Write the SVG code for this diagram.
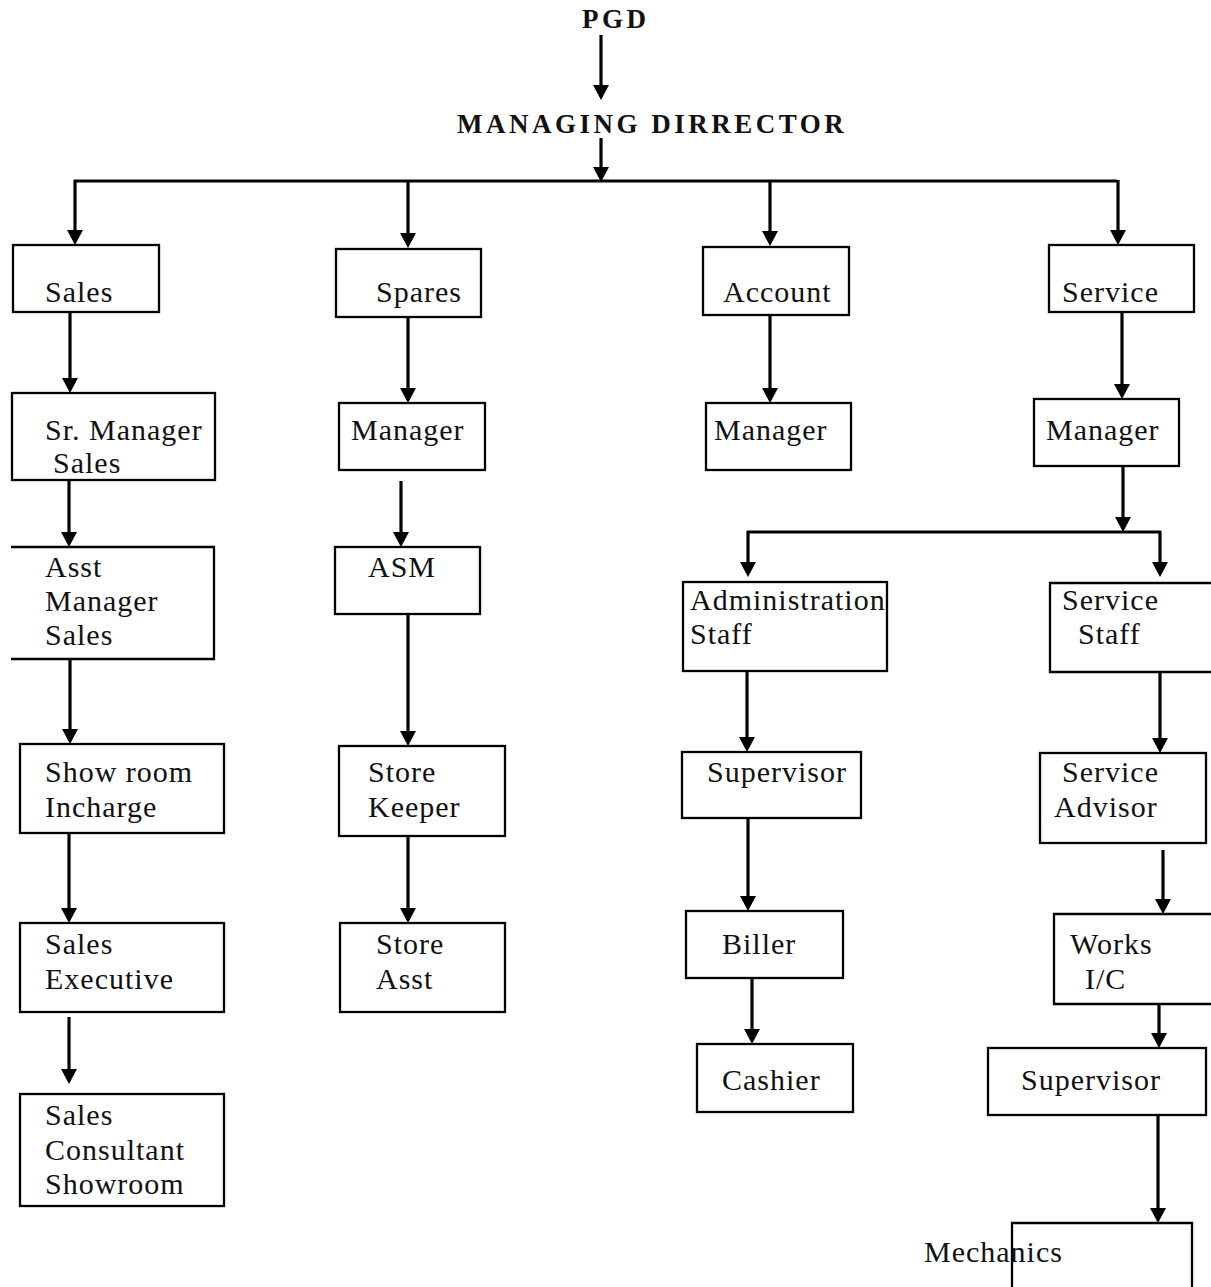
<svg xmlns="http://www.w3.org/2000/svg" width="1211" height="1287" viewBox="0 0 1211 1287">
<style>
  .bx { fill: #fff; stroke: #000; stroke-width: 2.3; }
  .t { font-family: "Liberation Serif", "Times New Roman", serif; font-size: 30px; letter-spacing: 1px; fill: #111; }
  .h { font-family: "Liberation Serif", "Times New Roman", serif; font-size: 27px; font-weight: bold; letter-spacing: 3.5px; fill: #111; }
  .c { stroke: #000; stroke-width: 3.2; fill: none; }
  .ca { stroke: #000; stroke-width: 3.2; fill: none; marker-end: url(#ah); }
</style>
<defs>
  <marker id="ah" markerUnits="userSpaceOnUse" markerWidth="17" markerHeight="18" refX="9" refY="8" orient="auto" viewBox="0 0 17 18">
    <path d="M0,0 L15,8 L0,16 z" fill="#000"/>
  </marker>
</defs>
<rect width="1211" height="1287" fill="#fff"/>

<g id="connectors">
  <line class="ca" x1="601" y1="35" x2="601" y2="94"/>
  <line class="ca" x1="601" y1="138" x2="601" y2="176"/>
  <line class="c" x1="74" y1="181" x2="1117" y2="181"/>
  <line class="ca" x1="75" y1="180" x2="75" y2="239"/>
  <line class="ca" x1="408" y1="180" x2="408" y2="242"/>
  <line class="ca" x1="770" y1="180" x2="770" y2="240"/>
  <line class="ca" x1="1118" y1="180" x2="1118" y2="239"/>

  <line class="ca" x1="70" y1="312" x2="70" y2="387"/>
  <line class="ca" x1="408" y1="317" x2="408" y2="397"/>
  <line class="ca" x1="770" y1="315" x2="770" y2="397"/>
  <line class="ca" x1="1122" y1="312" x2="1122" y2="393"/>

  <line class="ca" x1="69" y1="480" x2="69" y2="541"/>
  <line class="ca" x1="401" y1="481" x2="401" y2="541"/>
  <line class="ca" x1="1123" y1="466" x2="1123" y2="526"/>
  <line class="c" x1="747" y1="532" x2="1161" y2="532"/>
  <line class="ca" x1="748" y1="531" x2="748" y2="571"/>
  <line class="ca" x1="1160" y1="531" x2="1160" y2="571"/>

  <line class="ca" x1="70" y1="659" x2="70" y2="738"/>
  <line class="ca" x1="408" y1="614" x2="408" y2="740"/>
  <line class="ca" x1="747" y1="665" x2="747" y2="746"/>
  <line class="ca" x1="1160" y1="665" x2="1160" y2="747"/>

  <line class="ca" x1="69" y1="833" x2="69" y2="917"/>
  <line class="ca" x1="408" y1="836" x2="408" y2="917"/>
  <line class="ca" x1="748" y1="818" x2="748" y2="905"/>
  <line class="ca" x1="1163" y1="850" x2="1163" y2="908"/>

  <line class="ca" x1="69" y1="1017" x2="69" y2="1078"/>
  <line class="ca" x1="752" y1="978" x2="752" y2="1038"/>
  <line class="ca" x1="1159" y1="1004" x2="1159" y2="1042"/>
  <line class="ca" x1="1158" y1="1115" x2="1158" y2="1217"/>
</g>

<g id="pgd"><text class="h" x="582" y="28">PGD</text></g>
<g id="md"><text class="h" x="457" y="133">MANAGING DIRRECTOR</text></g>

<g id="sales"><rect class="bx" x="13" y="245" width="146" height="67"/><text class="t" x="45" y="302">Sales</text></g>
<g id="spares"><rect class="bx" x="336" y="249" width="145" height="68"/><text class="t" x="376" y="302">Spares</text></g>
<g id="account"><rect class="bx" x="703" y="247" width="146" height="68"/><text class="t" x="723" y="302">Account</text></g>
<g id="service"><rect class="bx" x="1049" y="245" width="145" height="67"/><text class="t" x="1062" y="302">Service</text></g>

<g id="sr-manager-sales"><rect class="bx" x="12" y="393" width="203" height="87"/><text class="t" x="45" y="440">Sr. Manager</text><text class="t" x="53" y="473">Sales</text></g>
<g id="spares-manager"><rect class="bx" x="339" y="403" width="146" height="67"/><text class="t" x="351" y="440">Manager</text></g>
<g id="account-manager"><rect class="bx" x="706" y="403" width="145" height="67"/><text class="t" x="714" y="440">Manager</text></g>
<g id="service-manager"><rect class="bx" x="1034" y="399" width="145" height="67"/><text class="t" x="1046" y="440">Manager</text></g>

<g id="asst-manager-sales"><path class="bx" d="M11,547 H214 V659 H11"/><text class="t" x="45" y="577">Asst</text><text class="t" x="45" y="611">Manager</text><text class="t" x="45" y="645">Sales</text></g>
<g id="asm"><rect class="bx" x="335" y="547" width="145" height="67"/><text class="t" x="368" y="577">ASM</text></g>
<g id="admin-staff"><rect class="bx" x="683" y="582" width="204" height="89"/><text class="t" x="690" y="610">Administration</text><text class="t" x="690" y="644">Staff</text></g>
<g id="service-staff"><path class="bx" d="M1215,583 H1050 V672 H1215"/><text class="t" x="1062" y="610">Service</text><text class="t" x="1078" y="644">Staff</text></g>

<g id="showroom-incharge"><rect class="bx" x="20" y="744" width="204" height="89"/><text class="t" x="45" y="782">Show room</text><text class="t" x="45" y="817">Incharge</text></g>
<g id="store-keeper"><rect class="bx" x="339" y="746" width="166" height="90"/><text class="t" x="368" y="782">Store</text><text class="t" x="368" y="817">Keeper</text></g>
<g id="admin-supervisor"><rect class="bx" x="682" y="752" width="179" height="66"/><text class="t" x="707" y="782">Supervisor</text></g>
<g id="service-advisor"><rect class="bx" x="1040" y="753" width="166" height="90"/><text class="t" x="1062" y="782">Service</text><text class="t" x="1054" y="817">Advisor</text></g>

<g id="sales-executive"><rect class="bx" x="20" y="923" width="204" height="89"/><text class="t" x="45" y="954">Sales</text><text class="t" x="45" y="989">Executive</text></g>
<g id="store-asst"><rect class="bx" x="340" y="923" width="165" height="89"/><text class="t" x="376" y="954">Store</text><text class="t" x="376" y="989">Asst</text></g>
<g id="biller"><rect class="bx" x="686" y="911" width="157" height="67"/><text class="t" x="722" y="954">Biller</text></g>
<g id="works-ic"><path class="bx" d="M1215,914 H1054 V1004 H1215"/><text class="t" x="1070" y="954">Works</text><text class="t" x="1085" y="989">I/C</text></g>

<g id="sales-consultant"><rect class="bx" x="20" y="1094" width="204" height="112"/><text class="t" x="45" y="1125">Sales</text><text class="t" x="45" y="1160">Consultant</text><text class="t" x="45" y="1194">Showroom</text></g>
<g id="cashier"><rect class="bx" x="697" y="1044" width="156" height="68"/><text class="t" x="722" y="1090">Cashier</text></g>
<g id="service-supervisor"><rect class="bx" x="988" y="1048" width="218" height="67"/><text class="t" x="1021" y="1090">Supervisor</text></g>

<g id="mechanics"><path class="bx" d="M1012,1295 V1223 H1192 V1295"/><text class="t" x="924" y="1262">Mechanics</text></g>
</svg>
